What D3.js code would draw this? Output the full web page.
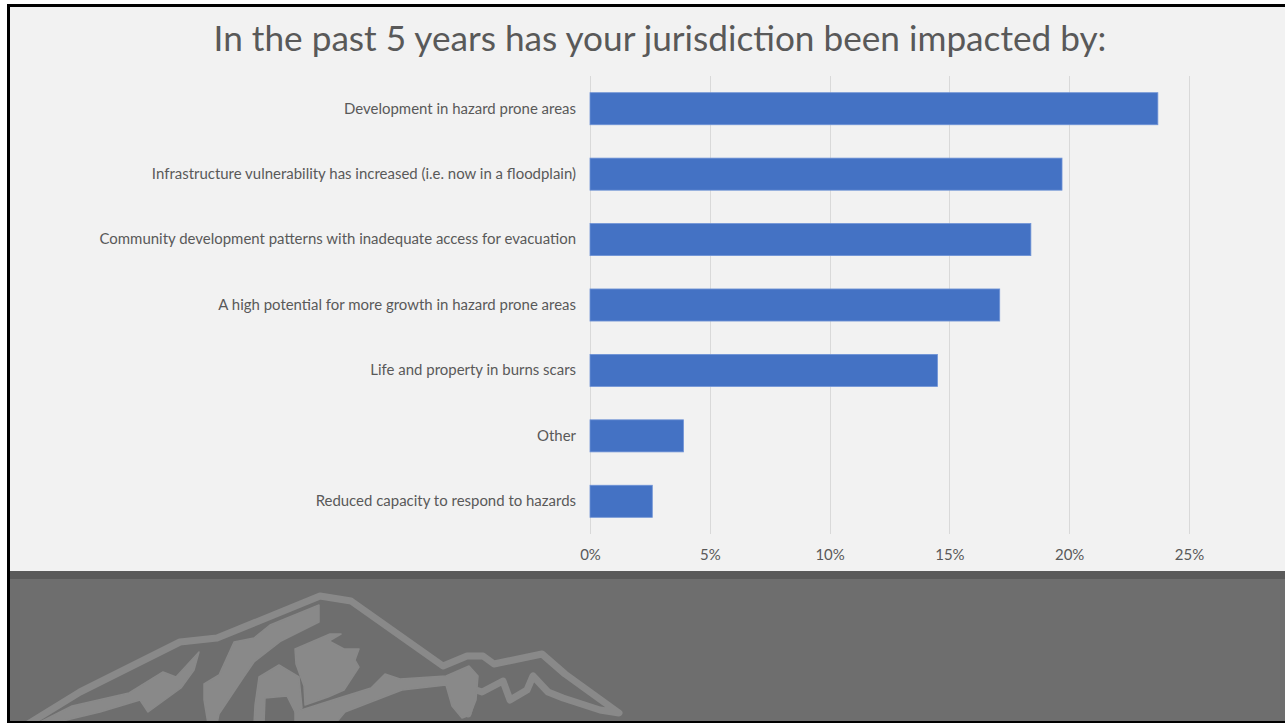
<!DOCTYPE html>
<html>
<head>
<meta charset="utf-8">
<script src="https://cdn.jsdelivr.net/npm/d3@7"></script>
<style>
  html, body { margin: 0; padding: 0; background: #ffffff; }
  svg { display: block; }
  text { font-family: Lato, "Open Sans", sans-serif; fill: #595959; }
</style>
</head>
<body>
<svg id="chart"></svg>
<script>
//
// Data
//
const titleText = 'In the past 5 years has your jurisdiction been impacted by:';

const categories = [
  'Development in hazard prone areas',
  'Infrastructure vulnerability has increased (i.e. now in a floodplain)',
  'Community development patterns with inadequate access for evacuation',
  'A high potential for more growth in hazard prone areas',
  'Life and property in burns scars',
  'Other',
  'Reduced capacity to respond to hazards'
];

const values = [0.237, 0.197, 0.184, 0.171, 0.145, 0.039, 0.026];

const tickValues = [0, 0.05, 0.10, 0.15, 0.20, 0.25];

//
// Set-up
//
const W = 1285;
const H = 723;
const plot = { left: 590, right: 1189, top: 76, bottom: 534 };

const svg = d3.select('#chart')
  .attr('width', W)
  .attr('height', H);

// slide background + frame
svg.append('rect')
  .attr('x', 0).attr('y', 0).attr('width', W).attr('height', H)
  .attr('fill', '#ffffff');
svg.append('rect')
  .attr('x', 7).attr('y', 4).attr('width', W - 7).attr('height', H - 4)
  .attr('fill', '#000000');
svg.append('rect')
  .attr('x', 10).attr('y', 7).attr('width', W - 10).attr('height', 714)
  .attr('fill', '#f2f2f2');

// dark footer band
svg.append('rect')
  .attr('x', 10).attr('y', 571).attr('width', W - 10).attr('height', 150)
  .attr('fill', '#6e6e6e');
svg.append('rect')
  .attr('x', 10).attr('y', 571).attr('width', W - 10).attr('height', 8)
  .attr('fill', '#5a5a5a');

// mountain logo (decoration)
const logo = svg.append('g')
  .attr('class', 'logo')
  .attr('clip-path', 'url(#footerClip)');

svg.append('clipPath').attr('id', 'footerClip')
  .append('rect').attr('x', 10).attr('y', 579).attr('width', W - 10).attr('height', 142);

const mountainColor = '#898989';
const line = d3.line().curve(d3.curveLinear);

// outer outline
logo.append('path')
  .attr('d', line([
    [28, 724], [80, 692], [180, 642], [217, 638], [320, 596], [351, 601],
    [443, 666], [467, 656], [483, 656], [494, 664], [542, 654], [565, 674],
    [619, 713], [600, 710], [563, 698], [548, 692], [533, 676], [527, 690],
    [510, 700], [503, 681], [482, 692], [470, 688], [472, 700], [468, 714]
  ]))
  .attr('fill', 'none')
  .attr('stroke', mountainColor)
  .attr('stroke-width', 7)
  .attr('stroke-linejoin', 'round')
  .attr('stroke-linecap', 'round');

const shapes = [
  // main ridge strip
  [[319, 605], [319, 622], [281, 641], [254, 662], [243, 678], [219, 714], [217, 724],
   [208, 724], [204, 700], [204, 684], [219, 675], [234, 642], [254, 638], [270, 625]],
  // left lower strip
  [[199, 652], [194, 670], [181, 688], [148, 712], [140, 700], [100, 712], [50, 724],
   [36, 724], [72, 706], [129, 693], [163, 672], [176, 677]],
  // central block
  [[295, 649], [330, 634], [341, 634], [329, 641], [344, 649], [359, 649], [355, 660],
   [359, 667], [344, 690], [328, 697], [305, 705], [304, 686], [296, 664]],
  // lower block
  [[259, 677], [279, 665], [299, 677], [302, 708], [295, 712], [287, 696], [265, 698],
   [264, 724], [254, 724], [255, 705]],
  // bottom band
  [[295, 712], [339, 698], [371, 688], [385, 674], [400, 679], [446, 676], [469, 666],
   [478, 676], [476, 700], [470, 715], [462, 718], [452, 706], [446, 685], [402, 690],
   [376, 700], [345, 712], [335, 724], [295, 724]]
];

logo.selectAll('path.shape')
  .data(shapes)
  .enter().append('path')
    .attr('class', 'shape')
    .attr('d', d => line(d) + 'Z')
    .attr('fill', mountainColor)
    .attr('stroke', mountainColor)
    .attr('stroke-width', 1.5)
    .attr('stroke-linejoin', 'round');

//
// Scales
//
const xScale = d3.scaleLinear()
  .domain([0, 0.25])
  .range([plot.left, plot.right]);

const yScale = d3.scaleBand()
  .domain(categories)
  .range([plot.top, plot.bottom])
  .paddingInner(0.51)
  .paddingOuter(0.255);

// gridlines
svg.append('g')
  .attr('class', 'grid')
  .selectAll('line')
  .data(tickValues)
  .enter().append('line')
    .attr('x1', d => Math.round(xScale(d)) + 0.5)
    .attr('x2', d => Math.round(xScale(d)) + 0.5)
    .attr('y1', plot.top)
    .attr('y2', plot.bottom)
    .attr('stroke', '#d9d9d9')
    .attr('stroke-width', 1);

// bars
svg.append('g')
  .attr('class', 'bars')
  .selectAll('rect')
  .data(values)
  .enter().append('rect')
    .attr('x', xScale(0))
    .attr('y', (d, i) => yScale(categories[i]))
    .attr('width', d => xScale(d) - xScale(0))
    .attr('height', yScale.bandwidth())
    .attr('fill', '#4472c4')
    .attr('stroke', '#6f93d6')
    .attr('stroke-width', 0.8);

// x axis labels
const xAxis = d3.axisBottom(xScale)
  .tickValues(tickValues)
  .tickSize(0)
  .tickPadding(0)
  .tickFormat(d3.format('.0%'));

const xAxisG = svg.append('g')
  .attr('class', 'x axis')
  .attr('transform', `translate(0, 548)`)
  .call(xAxis);
xAxisG.select('.domain').remove();
xAxisG.selectAll('text')
  .attr('dy', null)
  .attr('y', 12)
  .style('font-size', '13.5px')
  .style('fill', '#595959');

// y axis labels
const yAxis = d3.axisLeft(yScale)
  .tickSize(0)
  .tickPadding(14);

const yAxisG = svg.append('g')
  .attr('class', 'y axis')
  .attr('transform', `translate(${plot.left}, 0)`)
  .call(yAxis);
yAxisG.select('.domain').remove();
yAxisG.selectAll('text')
  .style('font-size', '14px')
  .style('fill', '#595959');

// fit the label size so the longest label spans like the reference
let longest = 0;
yAxisG.selectAll('text').each(function() {
  longest = Math.max(longest, this.getComputedTextLength());
});
const labelSize = 14 * 477 / longest;
yAxisG.selectAll('text').style('font-size', `${labelSize}px`);
xAxisG.selectAll('text').style('font-size', `${labelSize}px`);

// title
const title = svg.append('text')
  .attr('class', 'title')
  .attr('x', 660)
  .attr('y', 51)
  .attr('text-anchor', 'middle')
  .style('font-size', '30px')
  .text(titleText);
const titleW = title.node().getComputedTextLength();
title.style('font-size', `${30 * 893 / titleW}px`);
</script>
</body>
</html>
